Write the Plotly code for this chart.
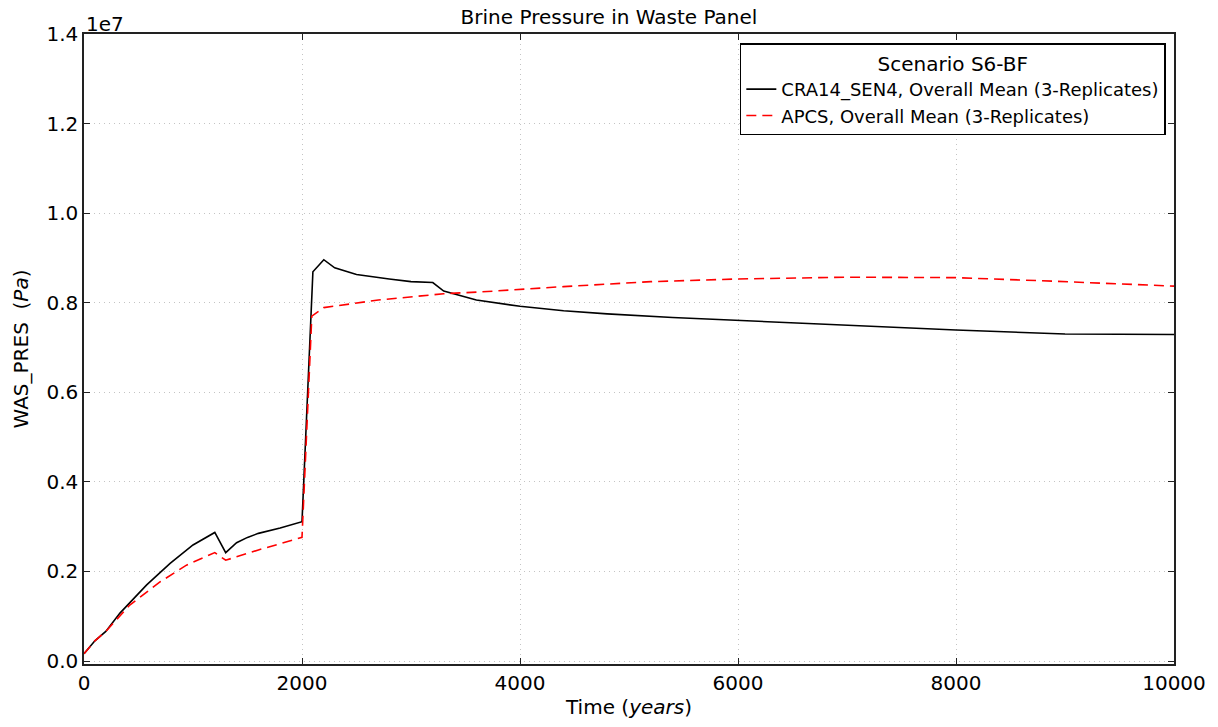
import plotly.graph_objects as go

# Time (years) and mean brine pressure (units of 1e7 Pa) for each model run
t_cra = [0, 100, 200, 330, 575, 790, 1000, 1200, 1300, 1400, 1500, 1600, 1800, 2000,
         2100, 2200, 2300, 2500, 2800, 3000, 3200, 3300, 3600, 4000, 4400, 4800, 5400,
         6000, 6800, 8000, 9000, 10000]
p_cra = [0.016, 0.045, 0.066, 0.107, 0.170, 0.218, 0.259, 0.287, 0.242, 0.264, 0.276,
         0.285, 0.297, 0.311, 0.869, 0.896, 0.878, 0.863, 0.853, 0.847, 0.845, 0.826,
         0.806, 0.792, 0.782, 0.775, 0.767, 0.760, 0.752, 0.739, 0.730, 0.729]

t_apcs = [0, 100, 200, 270, 420, 700, 940, 1200, 1300, 1600, 2000, 2090, 2200, 2700,
          3300, 3700, 4000, 4400, 5200, 6000, 7000, 8000, 8900, 10000]
p_apcs = [0.016, 0.045, 0.066, 0.085, 0.125, 0.177, 0.214, 0.242, 0.225, 0.248, 0.276,
          0.770, 0.789, 0.806, 0.820, 0.825, 0.830, 0.836, 0.847, 0.853, 0.857, 0.856,
          0.848, 0.837]

SCALE = 1e7
x_ticks = [0, 2000, 4000, 6000, 8000, 10000]
x_tick_text = ["0", "2000", "4000", "6000", "8000", "10000"]
y_ticks = [0.0, 0.2, 0.4, 0.6, 0.8, 1.0, 1.2, 1.4]
y_tick_text = ["0.0", "0.2", "0.4", "0.6", "0.8", "1.0", "1.2", "1.4"]

FONT = "DejaVu Sans"
BIG = 20

fig = go.Figure()
fig.add_trace(go.Scatter(
    x=t_cra, y=[v * SCALE for v in p_cra], mode="lines",
    name="CRA14_SEN4, Overall Mean (3-Replicates)",
    line=dict(color="black", width=1.6),
))
fig.add_trace(go.Scatter(
    x=t_apcs, y=[v * SCALE for v in p_apcs], mode="lines",
    name="APCS, Overall Mean (3-Replicates)",
    line=dict(color="red", width=1.6, dash="10px,6px"),
))

axis_common = dict(
    showline=True, linecolor="#222222", linewidth=1.5, mirror="allticks",
    ticks="inside", ticklen=6, tickcolor="#222222", tickwidth=1,
    showgrid=True, gridcolor="#c4c4c4", griddash="1px,4px", gridwidth=1,
    zeroline=False, tickfont=dict(family=FONT, size=BIG, color="black"),
)

fig.update_layout(
    width=1218, height=727,
    margin=dict(l=84, r=44, t=34, b=61),
    paper_bgcolor="white", plot_bgcolor="white",
    font=dict(family=FONT, color="black"),
    title=dict(text="Brine Pressure in Waste Panel", x=0.5, xanchor="center",
               y=1 - 17 / 727, yanchor="middle", font=dict(family=FONT, size=BIG)),
    xaxis=dict(range=[0, 10000], tickvals=x_ticks, ticktext=x_tick_text,
               title=dict(text="Time (<i>years</i>)", font=dict(family=FONT, size=BIG),
                          standoff=6),
               **axis_common),
    yaxis=dict(range=[-0.0067 * SCALE, 1.4 * SCALE],
               tickvals=[v * SCALE for v in y_ticks], ticktext=y_tick_text,
               title=dict(text="WAS_PRES  (<i>Pa</i>)", font=dict(family=FONT, size=BIG),
                          standoff=12),
               **axis_common),
    legend=dict(
        x=0.9925, y=0.985, xanchor="right", yanchor="top",
        bgcolor="white", bordercolor="black", borderwidth=1.5,
        font=dict(family=FONT, size=18),
        title=dict(text="Scenario S6-BF", side="top center",
                   font=dict(family=FONT, size=BIG)),
        tracegroupgap=0, itemwidth=30,
    ),
    showlegend=True,
)

# Exponent multiplier shown above the y-axis
fig.add_annotation(text="1e7", xref="paper", yref="paper", x=0, y=1,
                   xanchor="left", yanchor="bottom", showarrow=False,
                   font=dict(family=FONT, size=BIG), yshift=-4)

fig.write_html("out.html")
